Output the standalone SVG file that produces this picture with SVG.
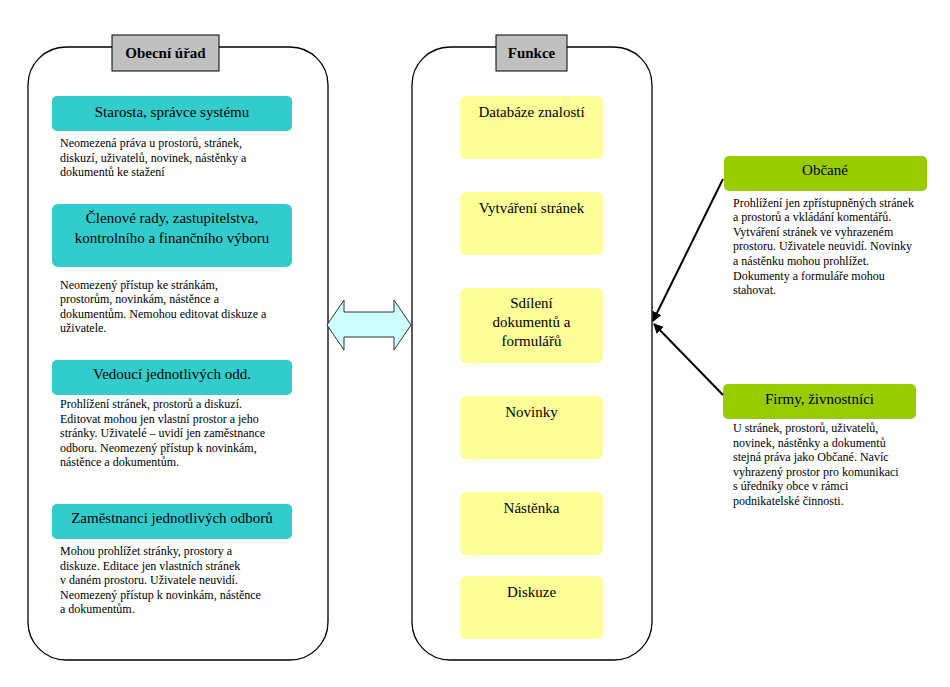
<svg xmlns="http://www.w3.org/2000/svg" width="950" height="687" viewBox="0 0 950 687">
<style>
.panel{fill:#ffffff;stroke:#000000;stroke-width:1.3}
.lbl{fill:#c0c0c0;stroke:#000000;stroke-width:1}
text{font-family:'Liberation Serif','Times New Roman','DejaVu Serif',serif;fill:#000}
.lbltxt{font-size:15px;font-weight:bold;text-anchor:middle}
.cyan{fill:#33cccc}
.yel{fill:#ffff99}
.grn{fill:#99cc00}
.ttl{font-size:15px;text-anchor:middle}
.desc{font-size:12px}
.conn{stroke:#000;stroke-width:2;fill:none}
</style>
<defs>
<marker id="ah" viewBox="0 0 10 10" refX="9" refY="5" markerWidth="5" markerHeight="5" orient="auto">
<path d="M0,0 L10,5 L0,10 z" fill="#000"/>
</marker>
</defs>
<rect width="950" height="687" fill="#ffffff"/>

<g id="panel-obecni-urad">
<rect class="panel" x="28" y="47" width="300" height="613" rx="38" ry="38"/>
<rect class="lbl" x="112" y="35" width="107" height="36"/>
<text class="lbltxt" x="165.5" y="58">Obecní úřad</text>
</g>

<g id="node-starosta">
<rect class="cyan" x="52" y="96" width="240" height="35" rx="5"/>
<text class="ttl" x="172" y="117">Starosta, správce systému</text>
<text class="desc" x="60" y="147">Neomezená práva u prostorů, stránek,</text>
<text class="desc" x="60" y="162">diskuzí, uživatelů, novinek, nástěnky a</text>
<text class="desc" x="60" y="176">dokumentů ke stažení</text>
</g>

<g id="node-clenove">
<rect class="cyan" x="52" y="204" width="240" height="63" rx="6"/>
<text class="ttl" x="172" y="223">Členové rady, zastupitelstva,</text>
<text class="ttl" x="172" y="243">kontrolního a finančního výboru</text>
<text class="desc" x="60" y="289">Neomezený přístup ke stránkám,</text>
<text class="desc" x="60" y="303">prostorům, novinkám, nástěnce a</text>
<text class="desc" x="60" y="318">dokumentům. Nemohou editovat diskuze a</text>
<text class="desc" x="60" y="332">uživatele.</text>
</g>

<g id="node-vedouci">
<rect class="cyan" x="52" y="360" width="240" height="35" rx="5"/>
<text class="ttl" x="172" y="379">Vedoucí jednotlivých odd.</text>
<text class="desc" x="60" y="408">Prohlížení stránek, prostorů a diskuzí.</text>
<text class="desc" x="60" y="423">Editovat mohou jen vlastní prostor a jeho</text>
<text class="desc" x="60" y="437">stránky. Uživatelé – uvidí jen zaměstnance</text>
<text class="desc" x="60" y="452">odboru. Neomezený přístup k novinkám,</text>
<text class="desc" x="60" y="466">nástěnce a dokumentům.</text>
</g>

<g id="node-zamestnanci">
<rect class="cyan" x="52" y="504" width="240" height="35" rx="5"/>
<text class="ttl" x="172" y="523">Zaměstnanci jednotlivých odborů</text>
<text class="desc" x="60" y="555">Mohou prohlížet stránky, prostory a</text>
<text class="desc" x="60" y="570">diskuze. Editace jen vlastních stránek</text>
<text class="desc" x="60" y="584">v daném prostoru. Uživatele neuvidí.</text>
<text class="desc" x="60" y="599">Neomezený přístup k novinkám, nástěnce</text>
<text class="desc" x="60" y="613">a dokumentům.</text>
</g>

<g id="panel-funkce">
<rect class="panel" x="412" y="47" width="240" height="613" rx="38" ry="38"/>
<rect class="lbl" x="496" y="35" width="71" height="36"/>
<text class="lbltxt" x="531.5" y="58">Funkce</text>
</g>

<g id="node-databaze">
<rect class="yel" x="460" y="96" width="143" height="63" rx="6"/>
<text class="ttl" x="531.5" y="117">Databáze znalostí</text>
</g>
<g id="node-vytvareni">
<rect class="yel" x="460" y="192" width="143" height="63" rx="6"/>
<text class="ttl" x="531.5" y="213">Vytváření stránek</text>
</g>
<g id="node-sdileni">
<rect class="yel" x="460" y="288" width="143" height="75" rx="6"/>
<text class="ttl" x="531.5" y="308">Sdílení</text>
<text class="ttl" x="531.5" y="327">dokumentů a</text>
<text class="ttl" x="531.5" y="346">formulářů</text>
</g>
<g id="node-novinky">
<rect class="yel" x="460" y="396" width="143" height="63" rx="6"/>
<text class="ttl" x="531.5" y="417">Novinky</text>
</g>
<g id="node-nastenka">
<rect class="yel" x="460" y="492" width="143" height="63" rx="6"/>
<text class="ttl" x="531.5" y="513">Nástěnka</text>
</g>
<g id="node-diskuze">
<rect class="yel" x="460" y="576" width="143" height="63" rx="6"/>
<text class="ttl" x="531.5" y="597">Diskuze</text>
</g>

<g id="node-obcane">
<rect class="grn" x="724" y="156" width="203" height="35" rx="5"/>
<text class="ttl" x="825" y="175">Občané</text>
<text class="desc" x="733" y="207">Prohlížení jen zpřístupněných stránek</text>
<text class="desc" x="733" y="221">a prostorů a vkládání komentářů.</text>
<text class="desc" x="733" y="236">Vytváření stránek ve vyhrazeném</text>
<text class="desc" x="733" y="250">prostoru. Uživatele neuvidí. Novinky</text>
<text class="desc" x="733" y="265">a nástěnku mohou prohlížet.</text>
<text class="desc" x="733" y="280">Dokumenty a formuláře mohou</text>
<text class="desc" x="733" y="294">stahovat.</text>
</g>

<g id="node-firmy">
<rect class="grn" x="723" y="384" width="193" height="35" rx="5"/>
<text class="ttl" x="819.5" y="404">Firmy, živnostníci</text>
<text class="desc" x="733" y="432">U stránek, prostorů, uživatelů,</text>
<text class="desc" x="733" y="447">novinek, nástěnky a dokumentů</text>
<text class="desc" x="733" y="461">stejná práva jako Občané. Navíc</text>
<text class="desc" x="733" y="476">vyhrazený prostor pro komunikaci</text>
<text class="desc" x="733" y="490">s úředníky obce v rámci</text>
<text class="desc" x="733" y="505">podnikatelské činnosti.</text>
</g>

<g id="connectors">
<path d="M327,325 L344,300 L344,312 L394,312 L394,300 L411,325 L394,350 L394,337 L344,337 L344,350 Z" fill="#ccffff" stroke="#333333" stroke-width="1"/>
<line class="conn" x1="723" y1="179" x2="653" y2="321" marker-end="url(#ah)"/>
<line class="conn" x1="723" y1="395" x2="654" y2="324" marker-end="url(#ah)"/>
</g>
</svg>
